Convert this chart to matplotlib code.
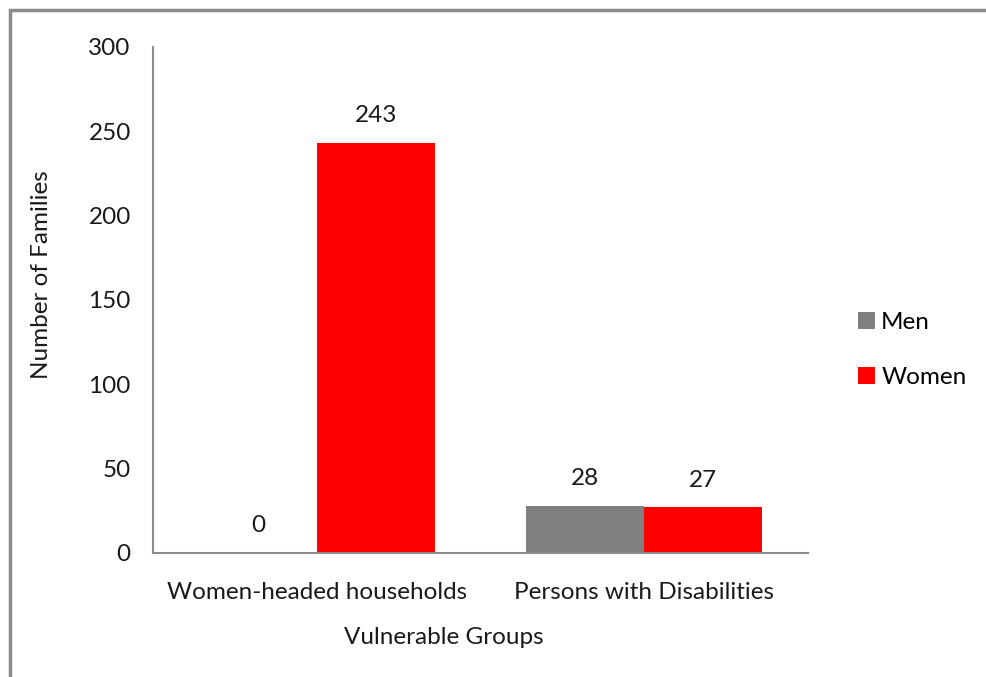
import matplotlib.pyplot as plt
import numpy as np
from matplotlib.patches import Rectangle

plt.rcParams['font.family'] = ['Lato', 'DejaVu Sans']

# data
groups = ['Women-headed households', 'Persons with Disabilities']
men = [0, 28]
women = [243, 27]
series_names = ['Men', 'Women']
colors = ['#808080', '#ff0000']

fs = 17.5
fig = plt.figure(figsize=(9.86, 6.77), dpi=100)
ax = fig.add_axes([0.1552, 0.1832, 0.6643, 0.7474])

x = np.arange(len(groups))
w = 0.36
b1 = ax.bar(x - w / 2, men, w, color=colors[0], label=series_names[0])
b2 = ax.bar(x + w / 2, women, w, color=colors[1], label=series_names[1])

for bars in (b1, b2):
    for bar in bars:
        h = bar.get_height()
        ax.text(bar.get_x() + bar.get_width() / 2, h + 10, str(int(h)),
                ha='center', va='bottom', fontsize=fs, color='#1a1a1a')

ax.set_xlim(-0.5, 1.5)
ax.set_ylim(0, 300)
ax.set_yticks(np.arange(0, 301, 50))
ax.set_xticks(x)
ax.set_xticklabels(groups)
ax.tick_params(axis='both', length=0, labelsize=fs, colors='#1a1a1a')
ax.tick_params(axis='x', pad=21)
ax.tick_params(axis='y', pad=16)

for s in ['top', 'right']:
    ax.spines[s].set_visible(False)
for s in ['left', 'bottom']:
    ax.spines[s].set_color('#8c8c8c')
    ax.spines[s].set_linewidth(1.5)

fig.text(444 / 986, 1 - 638 / 677, 'Vulnerable Groups', ha='center', va='center',
         fontsize=fs, color='#1a1a1a')
fig.text(42 / 986, 1 - 275 / 677, 'Number of Families', ha='center', va='center',
         rotation=90, fontsize=fs, color='#1a1a1a')

ax.legend(loc='center left', bbox_to_anchor=(846 / 986, 1 - 350 / 677),
          bbox_transform=fig.transFigure, frameon=False, fontsize=fs,
          handlelength=0.7, handleheight=0.7, handletextpad=0.25,
          labelspacing=1.4, borderpad=0)

# outer border, only top and left visible as in the reference
fig.patches.append(Rectangle((10 / 986, -0.1), 1.2, 1 - 10 / 677 + 0.1,
                             transform=fig.transFigure, fill=False,
                             edgecolor='#8c8c8c', linewidth=2.5))

fig.savefig('out.png', dpi=100)
